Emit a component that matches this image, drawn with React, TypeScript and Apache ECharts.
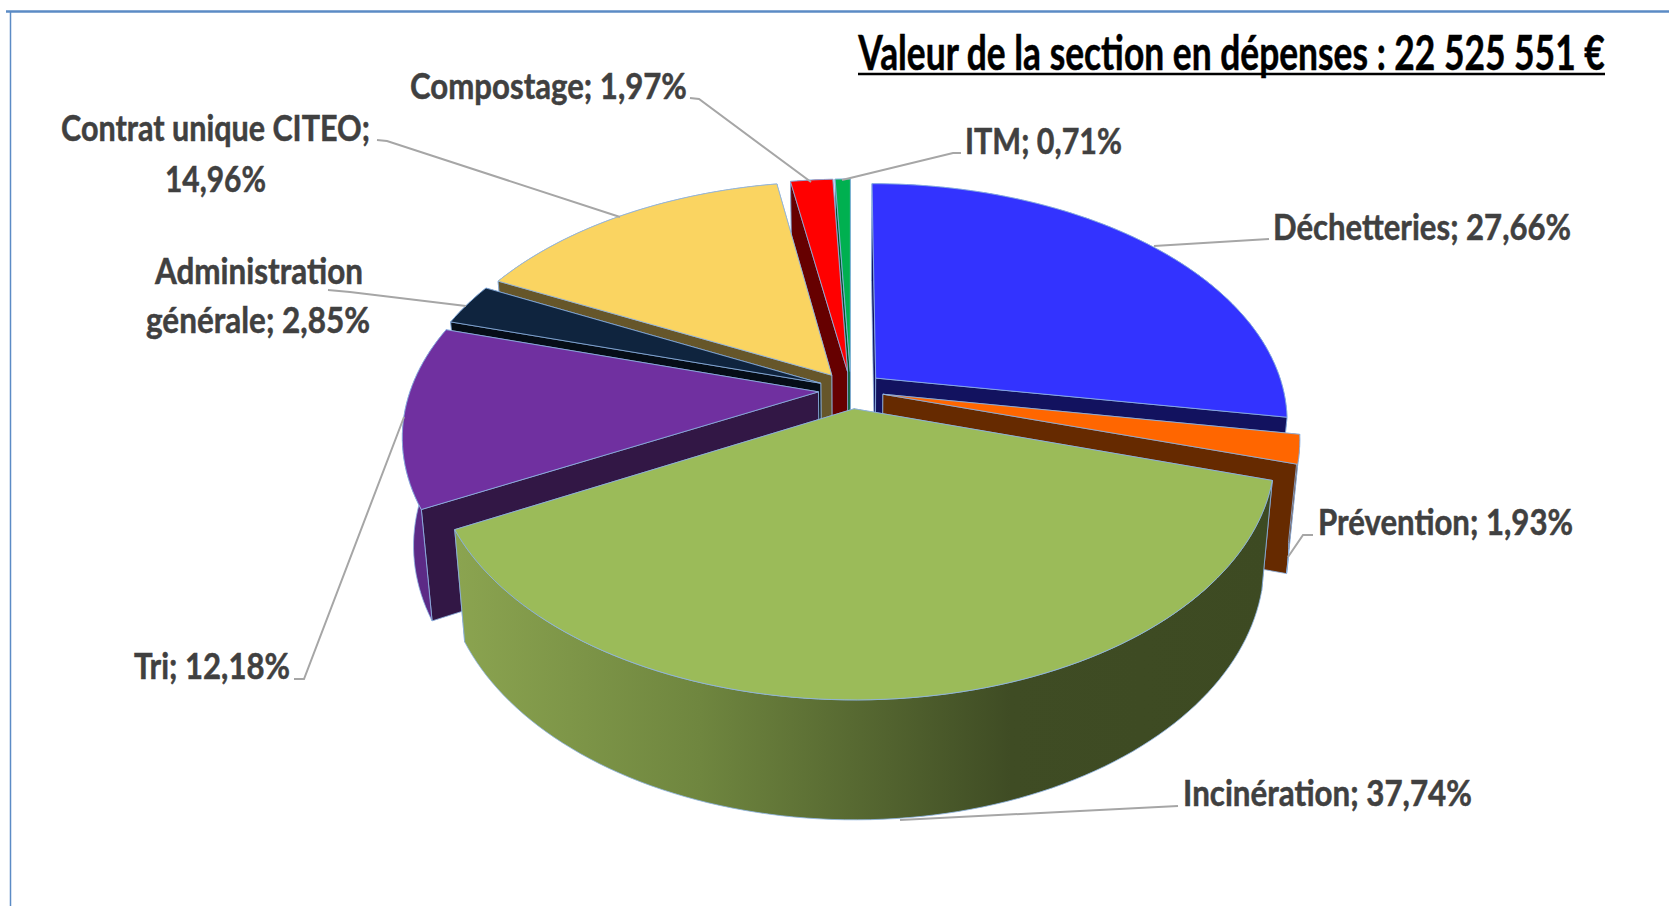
import React, { useEffect, useRef } from "react";
import * as echarts from "echarts";

// ---- data ----
const categories = ["Déchetteries", "Prévention", "Incinération", "Tri", "Administration générale", "Contrat unique CITEO", "Compostage", "ITM"];
const shares = [27.66, 1.93, 37.74, 12.18, 2.85, 14.96, 1.97, 0.71];
const titleText = "Valeur de la section en dépenses : 22 525 551 €";

// ---- styles ----
const topColors = ["#3333ff", "#ff6600", "#9bbb59", "#7030a0", "#0f243e", "#fad461", "#ff0000", "#00b050"];
const cutColors = ["#12125f", "#662a00", "#3d4a22", "#321745", "#050d17", "#66562a", "#660000", "#005a2a"];
const rimColors = ["#12125f", "#662a00", "", "#5c2a86", "#0a1a2e", "#66562a", "#660000", "#005a2a"];
const EDGE = "#8eb4e3";

// ---- projection of the tilted pie ----
const CX = 851, CY = 390, A = 408, B = 232.5, P = 0.176, EXPLODE = 0.08;
const DEPTH = 106, DEPTH_K = 0.045, SHRINK = 0.975;

// ---- label layout: one entry per category; text box [left, right, centreY] for each line ----
const labelLayout: { split?: number; boxes: number[][]; leader: number[][] }[] = [
  { boxes: [[1273, 1571, 226]], leader: [[1269, 239], [1154, 246]] },
  { boxes: [[1318, 1573, 521]], leader: [[1313, 535], [1303, 535], [1288, 557]] },
  { boxes: [[1183, 1472, 792]], leader: [[1178, 806], [900, 820]] },
  { boxes: [[134, 290, 665]], leader: [[294, 679], [304, 679], [404, 417]] },
  { split: 14, boxes: [[155, 363, 270], [146, 370, 319]], leader: [[328, 290], [350, 292], [466, 306]] },
  { split: 21, boxes: [[61, 370, 127], [165, 266, 178]], leader: [[377, 140], [387, 141], [620, 217]] },
  { boxes: [[410, 687, 85]], leader: [[690, 98], [699, 99], [811, 182]] },
  { boxes: [[965, 1122, 140]], leader: [[961, 153], [953, 153], [842, 180]] },
];

const LABEL_FONT = "bold 36px Lato";
const TITLE_FONT = "bold 48px Lato";
const ctx = document.createElement("canvas").getContext("2d") as CanvasRenderingContext2D;
const fitScale = (text: string, font: string, width: number) => {
  ctx.font = font;
  return width / ctx.measureText(text).width;
};

const rad = (d: number) => (d * Math.PI) / 180;

function topPoint(u: number, v: number) {
  const k = 1 + P * v;
  return [CX + (A * u) / k, CY - (B * v) / k];
}
function lowPoint(pt: number[]) {
  return [CX + SHRINK * (pt[0] - CX), pt[1] + DEPTH + DEPTH_K * (pt[1] - CY)];
}

function sliceShapes(startPct: number, pct: number, idx: number) {
  const t1 = startPct * 3.6;
  const t2 = (startPct + pct) * 3.6;
  const mid = (t1 + t2) / 2;
  const ou = EXPLODE * Math.sin(rad(mid));
  const ov = EXPLODE * Math.cos(rad(mid));
  const apex = topPoint(ou, ov);
  const rim: number[][] = [];
  const n = Math.max(2, Math.ceil((t2 - t1) / 1.5));
  for (let i = 0; i <= n; i++) {
    const t = rad(t1 + ((t2 - t1) * i) / n);
    rim.push(topPoint(Math.sin(t) + ou, Math.cos(t) + ov));
  }
  const rimLow = rim.map(lowPoint);
  const apexLow = lowPoint(apex);
  const edge = { stroke: EDGE, lineWidth: 0.8 };
  const quad = (a: number[], b: number[], c: number[], d: number[], fill: any) => ({
    type: "polygon",
    shape: { points: [a, b, c, d] },
    style: { fill, ...edge },
  });
  const startWall = quad(apex, rim[0], rimLow[0], apexLow, cutColors[idx]);
  const endWall = quad(apex, rim[n], rimLow[n], apexLow, cutColors[idx]);
  const rimFill =
    rimColors[idx] ||
    new echarts.graphic.LinearGradient(0, 0, 1, 0, [
      { offset: 0, color: "#8ba450" },
      { offset: 0.3, color: "#6f863f" },
      { offset: 0.68, color: "#3f4c24" },
      { offset: 1, color: "#3d4a22" },
    ]);
  const outer = {
    type: "polygon",
    shape: { points: [...rim, ...rimLow.slice().reverse()] },
    style: { fill: rimFill, ...edge },
  };
  const top = {
    type: "polygon",
    shape: { points: [apex, ...rim] },
    style: { fill: topColors[idx], ...edge },
  };
  const walls = mid < 180 ? [startWall, endWall] : [endWall, startWall];
  // a rim on the far half of the pie lies behind the slice's cut faces
  return Math.cos(rad(mid)) > 0 ? [outer, ...walls, top] : [...walls, outer, top];
}

// cumulated starts, in the clockwise order of the chart
const starts = shares.map((_, i) => shares.slice(0, i).reduce((s, x) => s + x, 0));
// back-to-front drawing order
const drawOrder = shares
  .map((_, i) => i)
  .sort((a, b) => Math.cos(rad((starts[b] + shares[b] / 2) * 3.6)) - Math.cos(rad((starts[a] + shares[a] / 2) * 3.6)));

const labelOf = (i: number) => `${categories[i]}; ${shares[i].toFixed(2).replace(".", ",")}%`;

export default function App() {
  const ref = useRef<HTMLDivElement>(null);
  useEffect(() => {
    const chart = echarts.init(ref.current as HTMLDivElement, undefined, { renderer: "svg" });
    chart.setOption({
      animation: false,
      backgroundColor: "#ffffff",
      graphic: [
        { type: "line", shape: { x1: 6, y1: 11.5, x2: 1669, y2: 11.5 }, style: { stroke: "#5b8bc5", lineWidth: 2.5 } },
        { type: "line", shape: { x1: 10.5, y1: 11, x2: 10.5, y2: 906 }, style: { stroke: "#5b8bc5", lineWidth: 1.5 } },
        {
          type: "text",
          x: 1231.5,
          y: 51,
          scaleX: fitScale(titleText, TITLE_FONT, 747),
          style: { text: titleText, font: TITLE_FONT, fill: "#000000", stroke: "#000000", lineWidth: 0.5, align: "center", verticalAlign: "middle" },
        },
        { type: "line", shape: { x1: 858, y1: 74, x2: 1605, y2: 74 }, style: { stroke: "#000000", lineWidth: 2.5 } },
      ],
      series: [
        {
          type: "custom",
          coordinateSystem: "none",
          silent: true,
          data: drawOrder.map((i) => ({ name: categories[i], value: [starts[i], shares[i], i] })),
          renderItem: (_p: any, api: any) => ({
            type: "group",
            children: sliceShapes(api.value(0), api.value(1), api.value(2)),
          }),
        },
        {
          type: "custom",
          coordinateSystem: "none",
          silent: true,
          data: categories.map((name, i) => ({ name, value: [i] })),
          renderItem: (_p: any, api: any) => {
            const i = api.value(0);
            const l = labelLayout[i];
            const text = labelOf(i);
            const lines = l.split ? [text.slice(0, l.split).trim(), text.slice(l.split).trim()] : [text];
            return {
              type: "group",
              children: [
                {
                  type: "polyline",
                  shape: { points: l.leader },
                  style: { stroke: "#a6a6a6", lineWidth: 2, fill: "none" },
                },
                ...lines.map((t, k) => ({
                  type: "text",
                  x: (l.boxes[k][0] + l.boxes[k][1]) / 2,
                  y: l.boxes[k][2],
                  scaleX: fitScale(t, LABEL_FONT, l.boxes[k][1] - l.boxes[k][0]),
                  style: { text: t, font: LABEL_FONT, fill: "#404040", stroke: "#404040", lineWidth: 0.5, align: "center", verticalAlign: "middle" },
                })),
              ],
            };
          },
        },
      ],
    });
    return () => chart.dispose();
  }, []);
  return <div ref={ref} style={{ position: "fixed", left: 0, top: 0, width: 1669, height: 906 }} />;
}
